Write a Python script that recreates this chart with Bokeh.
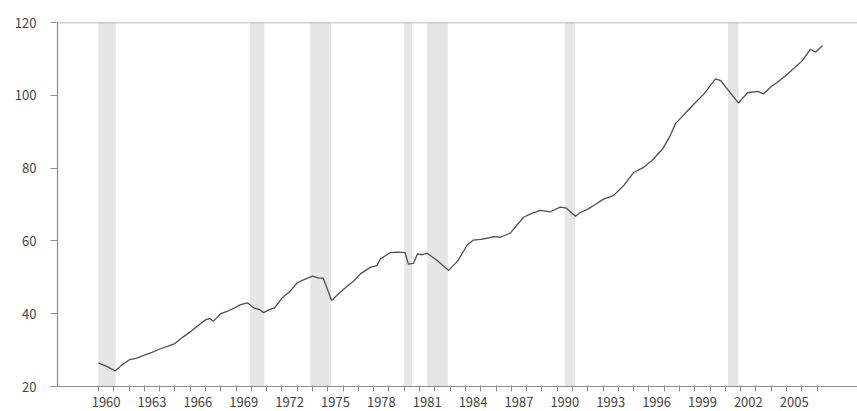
from bokeh.plotting import figure
from bokeh.models import FixedTicker, Range1d, Span
from bokeh.embed import file_html
from bokeh.resources import INLINE

# ---- data ----
years = [1960.0, 1960.5, 1961.1, 1961.5, 1962.0, 1962.5, 1963.0, 1963.5, 1964.0, 1964.5,
         1965.0, 1965.5, 1966.0, 1966.5, 1967.0, 1967.3, 1967.5, 1968.0, 1968.5, 1968.9,
         1969.3, 1969.75, 1970.15, 1970.5, 1970.8, 1971.2, 1971.5, 1972.0, 1972.5, 1973.0,
         1973.4, 1974.0, 1974.4, 1974.7, 1975.25, 1975.7, 1976.3, 1976.7, 1977.15, 1977.8,
         1978.2, 1978.45, 1979.1, 1979.6, 1980.05, 1980.27, 1980.6, 1980.86, 1981.2, 1981.5,
         1982.15, 1982.9, 1983.5, 1984.1, 1984.5, 1985.0, 1985.5, 1985.85, 1986.3, 1986.95,
         1987.4, 1987.8, 1988.3, 1988.9, 1989.55, 1990.2, 1990.6, 1991.2, 1991.5, 1991.95,
         1992.5, 1993.0, 1993.7, 1994.35, 1995.0, 1995.65, 1996.2, 1996.9, 1997.4, 1997.75,
         1998.5, 1999.0, 1999.6, 2000.0, 2000.35, 2000.7, 2001.3, 2001.85, 2002.45, 2003.1,
         2003.5, 2004.0, 2004.4, 2005.0, 2005.45, 2006.05, 2006.55, 2006.9, 2007.35]
values = [26.5, 25.6, 24.3, 25.8, 27.3, 27.8, 28.6, 29.4, 30.3, 31.0,
          31.8, 33.5, 35.0, 36.7, 38.3, 38.7, 37.9, 40.0, 40.8, 41.6,
          42.5, 43.0, 41.6, 41.2, 40.3, 41.2, 41.5, 44.3, 46.0, 48.5,
          49.3, 50.3, 49.8, 49.8, 43.6, 45.5, 47.7, 49.0, 51.0, 52.8,
          53.2, 55.1, 56.8, 56.9, 56.8, 53.6, 53.8, 56.4, 56.2, 56.6,
          54.6, 51.9, 54.5, 58.8, 60.2, 60.4, 60.8, 61.2, 61.0, 62.2,
          64.5, 66.5, 67.5, 68.4, 68.0, 69.3, 69.0, 66.8, 67.8, 68.6,
          70.0, 71.4, 72.5, 75.2, 78.8, 80.2, 82.1, 85.3, 89.0, 92.3,
          95.6, 97.8, 100.4, 102.6, 104.5, 104.0, 100.8, 97.9, 100.7, 101.1,
          100.4, 102.4, 103.6, 105.6, 107.3, 109.6, 112.6, 111.9, 113.6]

# recession periods (start, end) in years
rec_start = [1960.0, 1969.92, 1973.85, 1980.0, 1981.5, 1990.5, 2001.17]
rec_end = [1961.12, 1970.85, 1975.2, 1980.5, 1982.85, 1991.17, 2001.85]

# tick labels (every 3 years, centred inside the year), minor ticks every year
label_years = list(range(1960, 2006, 3))
tick_years = list(range(1960, 2008))

Y_MIN, Y_MAX = 20, 120
X_MIN, X_MAX = 1957.32, 2009.64

FONT = "Noto Sans CJK KR"
TEXT = "#444444"
AXIS = "#8c8c8c"

p = figure(width=857, height=411, output_backend="svg", toolbar_location=None,
           x_range=Range1d(X_MIN, X_MAX), y_range=Range1d(Y_MIN, Y_MAX),
           min_border_left=57, min_border_right=0, min_border_top=22, min_border_bottom=25)
p.outline_line_color = None
p.background_fill_color = "white"
p.border_fill_color = "white"
p.xgrid.visible = False
p.ygrid.visible = False

# recession bands
p.quad(left=rec_start, right=rec_end, bottom=[Y_MIN] * len(rec_start), top=[Y_MAX] * len(rec_start),
       fill_color="#e6e6e6", line_color=None)

# series
p.line(years, values, line_color="#505050", line_width=1.3)

# top frame line
p.add_layout(Span(location=Y_MAX, dimension="width", line_color="#a0a0a0", line_width=1.5))

# x axis
xa = p.xaxis[0]
xa.ticker = FixedTicker(ticks=[y + 0.5 for y in label_years], minor_ticks=tick_years)
xa.major_label_overrides = {y + 0.5: str(y) for y in label_years}
xa.major_tick_out = 0
xa.major_tick_in = 0
xa.major_tick_line_color = None
xa.minor_tick_out = 5
xa.minor_tick_in = 1
xa.minor_tick_line_color = AXIS
xa.axis_line_color = AXIS
xa.axis_line_width = 1.2
xa.major_label_standoff = 5
xa.major_label_text_font = FONT
xa.major_label_text_font_size = "13px"
xa.major_label_text_color = TEXT

# y axis
ya = p.yaxis[0]
ya.ticker = FixedTicker(ticks=[20, 40, 60, 80, 100, 120], minor_ticks=[])
ya.major_tick_out = 7
ya.major_tick_in = 0
ya.major_tick_line_color = AXIS
ya.axis_line_color = AXIS
ya.axis_line_width = 1.2
ya.major_label_standoff = 14
ya.major_label_text_font = FONT
ya.major_label_text_font_size = "13px"
ya.major_label_text_color = TEXT

open("out.html", "w").write(file_html(p, INLINE))
